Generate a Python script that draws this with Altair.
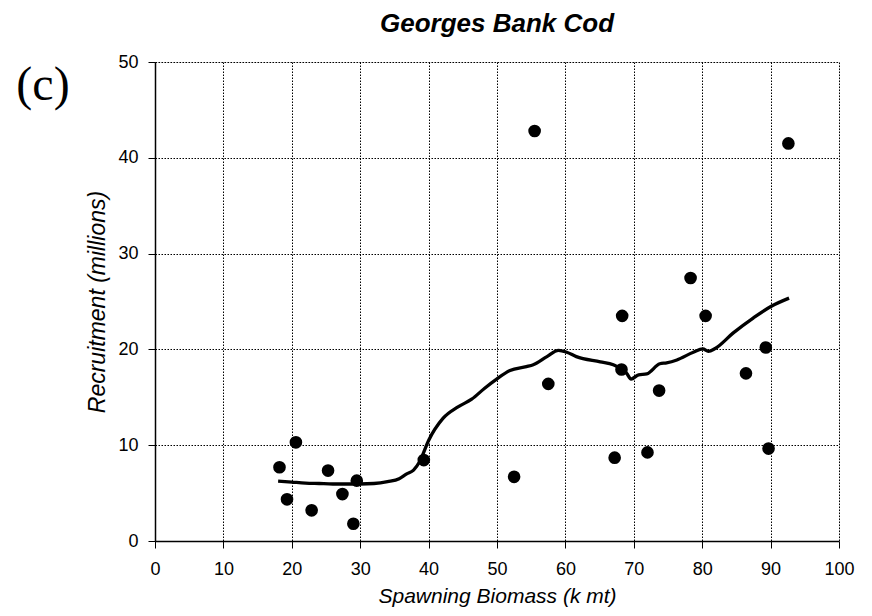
import altair as alt
import pandas as pd

# Scatter points: spawning biomass (k mt) vs recruitment (millions)
biomass = [18.2, 19.3, 20.6, 22.9, 25.3, 27.4, 29.0, 29.5, 39.3, 52.5, 55.5, 57.5,
           67.2, 68.2, 68.3, 72.0, 73.7, 78.3, 80.5, 86.4, 89.3, 89.7, 92.6]
recruitment = [7.7, 4.35, 10.3, 3.2, 7.35, 4.9, 1.8, 6.3, 8.45, 6.7, 42.8, 16.4,
               8.7, 17.9, 23.5, 9.25, 15.7, 27.45, 23.5, 17.5, 20.2, 9.65, 41.5]

# Smoothed curve
curve_x = [18.0, 20, 22, 24, 26, 28, 30, 32, 34, 35.7, 36.8, 37.8, 38.7, 40.0, 42.1,
           44.3, 46.3, 48.2, 49.95, 51.9, 54.3, 55.3, 57.3, 59.0, 60.2, 61.6, 65.1,
           67.0, 68.96, 69.6, 70.7, 71.9, 73.8, 74.8, 76.3, 78.7, 80.1, 80.9, 81.9,
           84.5, 87.5, 90.1, 92.7]
curve_y = [6.25, 6.15, 6.05, 6.0, 5.95, 5.95, 5.95, 6.0, 6.2, 6.5, 7.0, 7.4, 8.3, 10.5,
           12.8, 14.0, 14.8, 15.95, 16.9, 17.8, 18.2, 18.4, 19.25, 19.9, 19.7, 19.25,
           18.7, 18.4, 17.5, 16.9, 17.35, 17.45, 18.5, 18.6, 18.9, 19.7, 20.05, 19.8,
           20.1, 21.7, 23.3, 24.5, 25.35]

x_ticks = [0, 10, 20, 30, 40, 50, 60, 70, 80, 90, 100]
y_ticks = [0, 10, 20, 30, 40, 50]
panel_label = ["(c)"]

pts = pd.DataFrame({"x": biomass, "y": recruitment})
crv = pd.DataFrame({"x": curve_x, "y": curve_y})
lab = pd.DataFrame({"t": panel_label})

FONT = "Liberation Sans"

x_enc = alt.X("x:Q", scale=alt.Scale(domain=[0, 100], nice=False, zero=True),
              axis=alt.Axis(values=x_ticks, title="Spawning Biomass (k mt)",
                            titleFontStyle="italic", titleFontWeight="normal",
                            titleFontSize=21, titleFont=FONT, titlePadding=7,
                            labelFont=FONT, labelFontSize=18, labelPadding=12,
                            tickSize=7, tickColor="black", domainColor="black",
                            domainWidth=1.5, labelColor="black", titleColor="black",
                            grid=True, gridColor="black", gridDash=[1.5, 1.5],
                            gridWidth=1, labelFlush=False))
y_enc = alt.Y("y:Q", scale=alt.Scale(domain=[0, 50], nice=False),
              axis=alt.Axis(values=y_ticks, title="Recruitment (millions)",
                            titleFontStyle="italic", titleFontWeight="normal",
                            titleFontSize=23, titleFont=FONT, titlePadding=8,
                            labelFont=FONT, labelFontSize=18, labelPadding=10,
                            tickSize=7, tickColor="black", domainColor="black",
                            domainWidth=1.5, labelColor="black", titleColor="black",
                            grid=True, gridColor="black", gridDash=[1.5, 1.5],
                            gridWidth=1, labelFlush=False))

points = alt.Chart(pts).mark_circle(size=160, color="black", opacity=1).encode(
    x=x_enc, y=y_enc)

line = alt.Chart(crv).mark_line(color="black", strokeWidth=3.3,
                                interpolate="monotone").encode(
    x="x:Q", y="y:Q", order="x:Q")

label = alt.Chart(lab).mark_text(font="Liberation Serif", fontSize=48,
                                 align="center", baseline="alphabetic",
                                 color="black").encode(
    x=alt.value(-112), y=alt.value(38), text="t:N")

chart = alt.layer(points, line, label).properties(
    width=684, height=479,
    title=alt.TitleParams("Georges Bank Cod", font=FONT, fontSize=26,
                          fontWeight="bold", fontStyle="italic", color="black",
                          offset=16, anchor="middle"),
    autosize=alt.AutoSizeParams(type="none"),
    padding={"left": 147, "top": 54, "right": 25, "bottom": 72},
).configure_view(stroke="black", strokeWidth=1.5).configure(background="white")

chart.save("out.html", embed_options={"renderer": "svg", "actions": False})
